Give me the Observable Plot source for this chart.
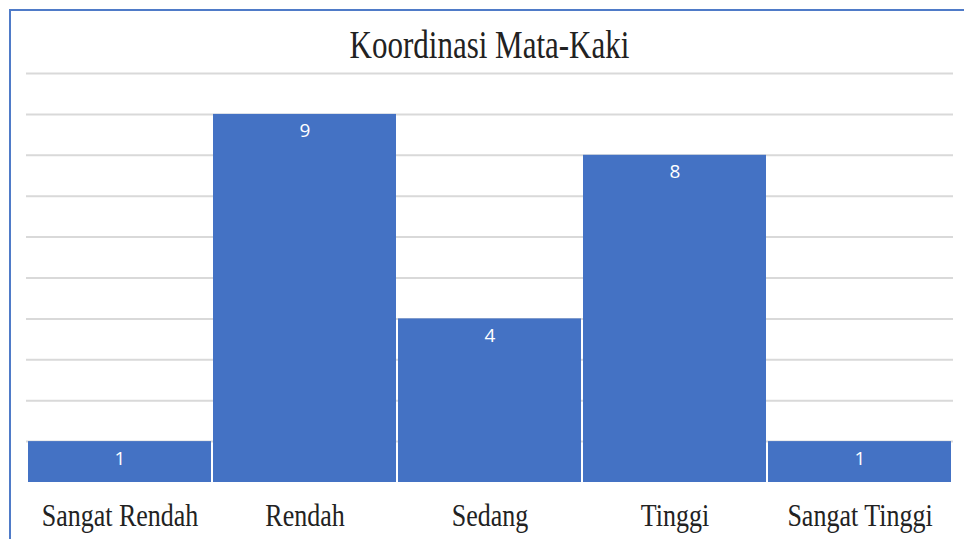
<!DOCTYPE html>
<html>
<head>
<meta charset="utf-8">
<script src="https://cdn.jsdelivr.net/npm/d3@7"></script>
<script src="https://cdn.jsdelivr.net/npm/@observablehq/plot@0.6"></script>
<style>
  html, body { margin: 0; padding: 0; background: #fff; width: 964px; height: 539px; overflow: hidden; }
  #frame { position: absolute; left: 9px; top: 9px; right: -5px; bottom: -5px;
           border-top: 2px solid #4f7bc8; border-left: 2px solid #4f7bc8; pointer-events: none; }
  #title { height: 62px; box-sizing: border-box; padding: 0 11px 0 26px; text-align: center;
           font-family: "Liberation Serif", "Times New Roman", serif; font-size: 31px; color: #222; }
  #title span { display: inline-block; line-height: 31px; margin-top: 32px;
                transform: scaleY(1.3); transform-origin: 50% 85%; }
</style>
</head>
<body>
<div id="frame"></div>
<div id="title"><span>Koordinasi Mata-Kaki</span></div>
<div id="chart"></div>
<script>
const categories = ["Sangat Rendah", "Rendah", "Sedang", "Tinggi", "Sangat Tinggi"];
const counts = [1, 9, 4, 8, 1];
const gridValues = [1, 2, 3, 4, 5, 6, 7, 8, 9, 10];

const data = categories.map((c, i) => ({category: c, count: counts[i]}));

const chart = Plot.plot({
  width: 964,
  height: 477,
  marginTop: 11,
  marginBottom: 57,
  marginLeft: 26,
  marginRight: 11,
  style: {background: "transparent", color: "#222", overflow: "visible"},
  x: {domain: categories, padding: 0, label: null},
  y: {domain: [0, 10], axis: null},
  marks: [
    Plot.ruleY(gridValues, {stroke: "#d9d9d9", strokeWidth: 2}),
    Plot.barY(data, {x: "category", y: "count", fill: "#4472C4", insetLeft: 1, insetRight: 1}),
    Plot.text(data, {x: "category", y: "count", text: d => String(d.count), dy: 17,
      fill: "white", fontSize: 19, fontFamily: "'Open Sans', sans-serif"}),
    Plot.axisX({tickSize: 0, tickPadding: 21, fontSize: 26,
      fontFamily: "'Liberation Serif', 'Times New Roman', serif", fill: "#222", label: null})
  ]
});
d3.select(chart).selectAll('g[aria-label="x-axis tick label"] text').each(function() {
  const t = this.getAttribute("transform");
  if (t) this.setAttribute("transform", t + " scale(1,1.22)");
});
document.getElementById("chart").appendChild(chart);
</script>
</body>
</html>
